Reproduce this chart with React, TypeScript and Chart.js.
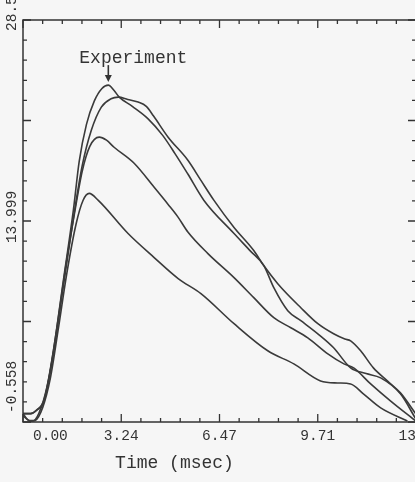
import React, { useEffect, useRef } from 'react';
import { Chart, registerables } from 'chart.js';

Chart.register(...registerables);

// Axis ranges and tick labels
const xMin = 0;
const xMax = 12.943;
const yMin = -0.558;
const yMax = 28.556;
const xMajorTicks = [0, 3.2358, 6.4715, 9.7073, 12.943];
const xTickLabels = ['0.00', '3.24', '6.47', '9.71', '13.0'];
const yMajorTicks = [-0.558, 6.7205, 13.999, 21.2775, 28.556];
const yTickValues = [-0.558, 13.999, 28.556];
const yTickLabels = ['-0.558', '13.999', '28.556'];
const xAxisTitle = 'Time (msec)';
const annotationText = 'Experiment';

// Curves: [time (msec), value]
const curveA: [number, number][] = [
  [0, 0.05], [0.25, 0.05], [0.45, 0.3], [0.7, 1.1], [1.0, 4.6], [1.33, 9.7], [1.66, 14.8],
  [1.85, 18.3], [2.09, 21.0], [2.35, 22.7], [2.6, 23.6], [2.81, 23.84], [3.0, 23.45],
  [3.17, 22.97], [3.6, 22.3], [4.12, 21.4], [4.6, 20.2], [5.0, 18.9], [5.43, 17.4],
  [5.96, 15.49], [6.95, 13.09], [7.5, 11.8], [7.93, 10.77], [8.26, 9.17], [8.72, 7.5],
  [9.15, 6.78], [9.71, 5.83], [10.23, 4.82], [10.79, 3.36], [11.3, 2.95], [11.78, 2.64],
  [12.43, 1.48], [12.94, -0.35],
];
const curveB: [number, number][] = [
  [0, 0.05], [0.25, 0.05], [0.45, 0.3], [0.7, 1.0], [1.0, 4.4], [1.33, 9.3], [1.66, 14.2],
  [1.95, 18.0], [2.25, 20.57], [2.58, 22.25], [2.9, 22.85], [3.14, 22.97], [3.45, 22.8],
  [3.79, 22.61], [4.06, 22.3], [4.3, 21.6], [4.78, 20.07], [5.43, 18.4], [5.86, 16.94],
  [6.29, 15.49], [6.95, 13.53], [7.6, 11.86], [7.93, 10.77], [8.39, 9.46], [9.15, 7.72],
  [9.71, 6.56], [10.23, 5.83], [10.6, 5.45], [10.79, 5.32], [11.12, 4.6], [11.54, 3.36],
  [12.0, 2.42], [12.43, 1.55], [12.94, 0.02],
];
const curveC: [number, number][] = [
  [0, 0.05], [0.2, -0.45], [0.35, -0.45], [0.6, 0.5], [0.85, 2.6], [1.1, 6.0], [1.4, 10.6],
  [1.7, 14.6], [1.95, 17.6], [2.2, 19.4], [2.51, 20.07], [2.75, 19.85], [3.0, 19.34],
  [3.66, 18.18], [4.32, 16.44], [4.78, 15.2], [5.1, 14.3], [5.43, 13.2], [6.09, 11.64],
  [6.95, 9.9], [7.6, 8.45], [8.26, 7.0], [8.82, 6.27], [9.38, 5.54], [10.04, 4.38],
  [10.57, 3.65], [10.89, 3.36], [11.45, 2.2], [12.1, 0.97], [12.94, -0.5],
];
const curveD: [number, number][] = [
  [0, -0.1], [0.25, -0.5], [0.4, -0.45], [0.65, 0.5], [0.9, 2.6], [1.15, 6.0], [1.45, 10.3],
  [1.75, 13.8], [1.98, 15.5], [2.18, 16.0], [2.48, 15.49], [3.46, 13.09], [4.32, 11.35],
  [5.11, 9.83], [5.86, 8.74], [6.95, 6.56], [8.06, 4.6], [8.92, 3.65], [9.8, 2.42],
  [10.36, 2.27], [10.79, 2.2], [11.21, 1.48], [11.78, 0.46], [12.66, -0.49],
];

const curves = [curveA, curveB, curveC, curveD];

const BG = '#f6f6f6';
const INK = '#333333';
const LINE = '#3a3a3a';
const MONO = '"Liberation Mono", "DejaVu Sans Mono", monospace';

function minorTicks(majors: number[], sub: number): number[] {
  const out: number[] = [];
  for (let i = 0; i < majors.length - 1; i++) {
    const a = majors[i];
    const b = majors[i + 1];
    for (let k = 1; k < sub; k++) out.push(a + ((b - a) * k) / sub);
  }
  return out;
}

const plotterAxes = {
  id: 'plotterAxes',
  beforeDraw(chart: any) {
    const { ctx, width, height } = chart;
    ctx.save();
    ctx.fillStyle = BG;
    ctx.fillRect(0, 0, width, height);
    ctx.restore();
  },
  afterDraw(chart: any) {
    const { ctx, chartArea: a } = chart;
    const xs = chart.scales.x;
    const ys = chart.scales.y;
    ctx.save();
    ctx.strokeStyle = INK;
    ctx.lineWidth = 1.5;
    ctx.strokeRect(a.left, a.top, a.right - a.left, a.bottom - a.top);

    ctx.lineWidth = 1.3;
    const drawX = (v: number, len: number) => {
      const px = xs.getPixelForValue(v);
      ctx.beginPath();
      ctx.moveTo(px, a.bottom);
      ctx.lineTo(px, a.bottom - len);
      ctx.moveTo(px, a.top);
      ctx.lineTo(px, a.top + len);
      ctx.stroke();
    };
    const drawY = (v: number, len: number) => {
      const py = ys.getPixelForValue(v);
      ctx.beginPath();
      ctx.moveTo(a.left, py);
      ctx.lineTo(a.left + len, py);
      ctx.moveTo(a.right, py);
      ctx.lineTo(a.right - len, py);
      ctx.stroke();
    };
    xMajorTicks.forEach((v) => drawX(v, 8));
    minorTicks(xMajorTicks, 5).forEach((v) => drawX(v, 4));
    yMajorTicks.forEach((v) => drawY(v, 8));
    minorTicks(yMajorTicks, 5).forEach((v) => drawY(v, 4));

    // x tick labels
    ctx.fillStyle = INK;
    ctx.font = `14.5px ${MONO}`;
    ctx.textBaseline = 'middle';
    xMajorTicks.forEach((v, i) => {
      const px = xs.getPixelForValue(v);
      if (i === 0) {
        ctx.textAlign = 'left';
        ctx.fillText(xTickLabels[i], px + 10, a.bottom + 14);
      } else {
        ctx.textAlign = 'center';
        ctx.fillText(xTickLabels[i], px, a.bottom + 14);
      }
    });

    // y tick labels (rotated)
    yTickValues.forEach((v, i) => {
      const py = ys.getPixelForValue(v);
      ctx.save();
      let anchorY = py;
      let align: CanvasTextAlign = 'center';
      if (i === 0) {
        anchorY = py - 9;
        align = 'left';
      } else if (i === yTickValues.length - 1) {
        anchorY = a.top + 11;
        align = 'left';
      } else {
        anchorY = py - 4;
      }
      ctx.translate(a.left - 11, anchorY);
      ctx.rotate(-Math.PI / 2);
      ctx.textAlign = align;
      ctx.textBaseline = 'middle';
      ctx.fillText(yTickLabels[i], 0, 0);
      ctx.restore();
    });

    // axis title
    ctx.font = `18px ${MONO}`;
    ctx.textAlign = 'center';
    ctx.fillText(xAxisTitle, (a.left + a.right) / 2 - 45, a.bottom + 41);

    // annotation with arrow on the experimental peak
    let peak = curveA[0];
    curveA.forEach((p) => {
      if (p[1] > peak[1]) peak = p;
    });
    const ax = xs.getPixelForValue(peak[0]);
    const ay = ys.getPixelForValue(peak[1]);
    ctx.fillText(annotationText, ax + 25, ay - 27);
    ctx.lineWidth = 1.6;
    ctx.beginPath();
    ctx.moveTo(ax, ay - 20);
    ctx.lineTo(ax, ay - 8);
    ctx.stroke();
    ctx.beginPath();
    ctx.moveTo(ax - 3.5, ay - 10);
    ctx.lineTo(ax + 3.5, ay - 10);
    ctx.lineTo(ax, ay - 3);
    ctx.closePath();
    ctx.fill();
    ctx.restore();
  },
};

export default function App() {
  const ref = useRef<HTMLCanvasElement | null>(null);
  useEffect(() => {
    if (!ref.current) return;
    const chart = new Chart(ref.current, {
      type: 'line',
      data: {
        datasets: curves.map((c) => ({
          data: c.map(([t, v]) => ({ x: t, y: v })),
          borderColor: LINE,
          borderWidth: 1.6,
          pointRadius: 0,
          fill: false,
          cubicInterpolationMode: 'monotone' as const,
        })),
      },
      options: {
        responsive: false,
        animation: false,
        devicePixelRatio: 1,
        layout: { padding: { left: 23, top: 20, right: 54, bottom: 60 } },
        plugins: { legend: { display: false }, tooltip: { enabled: false }, title: { display: false } },
        scales: {
          x: { type: 'linear', min: xMin, max: xMax, display: false },
          y: { type: 'linear', min: yMin, max: yMax, display: false },
        },
      },
      plugins: [plotterAxes],
    });
    return () => chart.destroy();
  }, []);
  return (
    <div style={{ position: 'fixed', left: 0, top: 0, width: 415, height: 482, overflow: 'hidden', background: BG }}>
      <canvas ref={ref} width={470} height={482} style={{ display: 'block' }} />
    </div>
  );
}
